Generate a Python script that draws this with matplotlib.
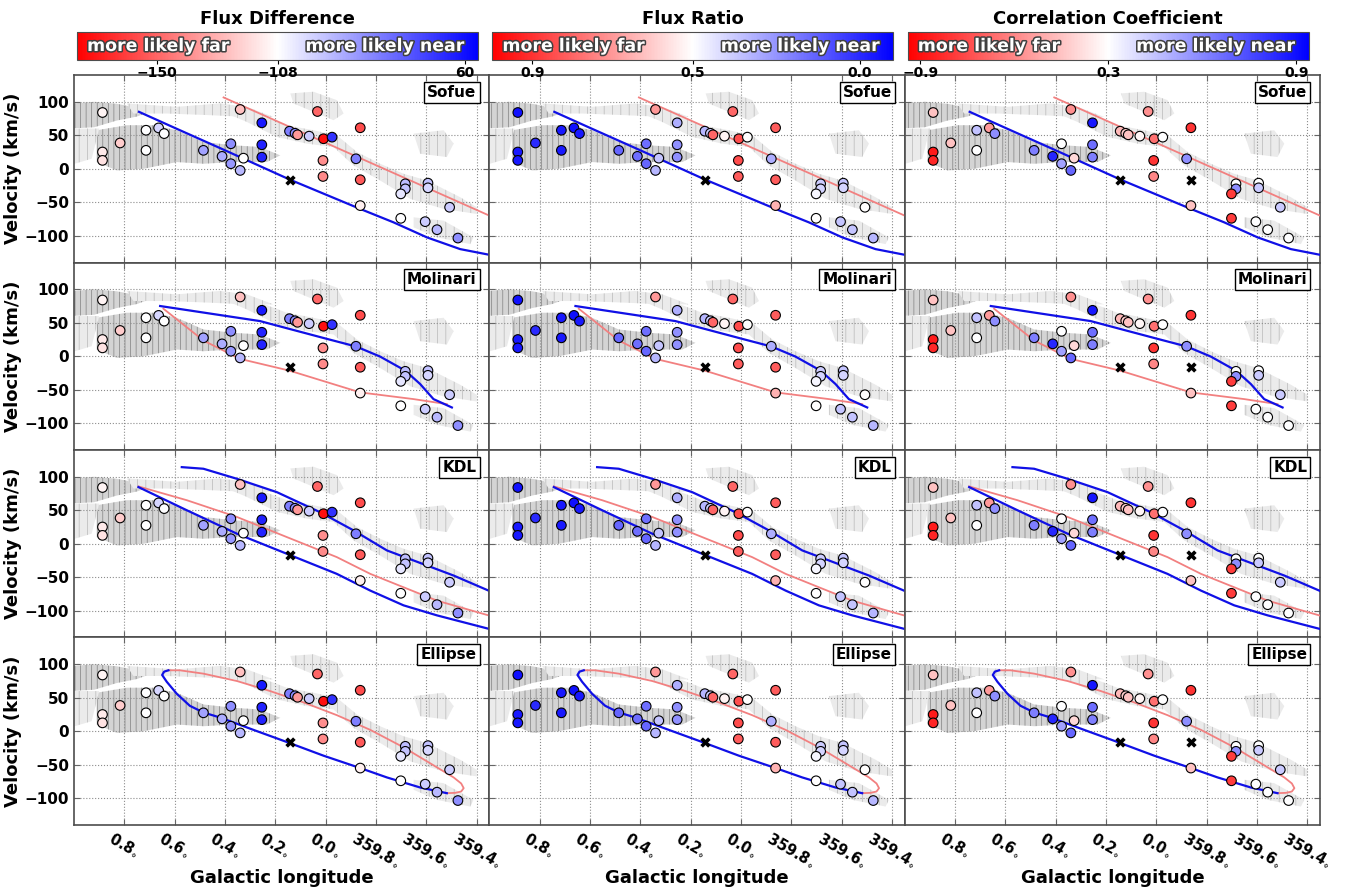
import numpy as np
import matplotlib
matplotlib.use('Agg')
import matplotlib.pyplot as plt
import matplotlib.patheffects as pe
from matplotlib.colors import TwoSlopeNorm
from matplotlib.cm import ScalarMappable

plt.rcParams['font.family'] = 'DejaVu Sans'
plt.rcParams['font.weight'] = 'bold'
plt.rcParams['mathtext.default'] = 'bf'
plt.rcParams['hatch.linewidth'] = 0.5

# source positions: Galactic longitude (deg) and velocity (km/s)
glon = np.array([0.887, 0.887, 0.887, 0.817, 0.714, 0.714, 0.664, 0.642, 0.486, 0.412,
                 0.377, 0.377, 0.340, 0.327, 0.340, 0.254, 0.254, 0.254, 0.144, 0.144,
                 0.122, 0.112, 0.066, 0.033, 0.009, -0.025, 0.011, 0.011, -0.137, -0.137,
                 -0.120, -0.137, -0.316, -0.316, -0.298, -0.298, -0.406, -0.406, -0.395, -0.442,
                 -0.492, -0.525])
vlsr = np.array([84, 25, 12.5, 38.5, 57.5, 27.5, 61, 52.5, 27.5, 18.5,
                 37.3, 7.5, -2.5, 15.8, 88.5, 68.6, 35.8, 17.3, -16.4, 56.1,
                 53, 50.7, 48.7, 85.5, 44.8, 47.2, 12.4, -11.5, 61.2, -16.4,
                 14.9, -55, -22.5, -30, -37.5, -74, -21.5, -28.5, -79, -91,
                 -57.5, -103.5])

nan = np.nan
flux_diff = np.array([-111, -114, -116, -122, -108, -108, -79, -108, -43, -50,
                      -29, -36, -58, -108, -125, 54, 47, 47, nan, -18,
                      -29, -136, -72, -150, -174, 36, -139, -140, -157, -153,
                      -18, -112, -61, -65, -90, -108, -65, -79, -72, -58,
                      -72, -29])
flux_ratio = np.array([-0.06, -0.04, -0.04, 0.00, -0.04, -0.04, -0.06, -0.04, 0.14, 0.16,
                       0.16, 0.14, 0.33, 0.36, 0.70, 0.31, 0.24, 0.24, nan, 0.33,
                       0.38, 0.80, 0.52, 0.80, 0.85, 0.50, 0.85, 0.82, 0.82, 0.82,
                       0.31, 0.65, 0.38, 0.40, 0.48, 0.50, 0.36, 0.40, 0.36, 0.36,
                       0.50, 0.33])
corr_coef = np.array([-0.01, -0.85, -0.78, -0.01, 0.45, 0.30, -0.21, 0.58, 0.62, 0.84,
                      0.30, 0.53, 0.68, 0.10, -0.26, 0.88, 0.66, 0.62, nan, -0.06,
                      0.04, -0.01, 0.25, -0.26, -0.42, 0.30, -0.72, -0.31, -0.72, nan,
                      0.58, -0.01, 0.30, 0.58, -0.67, -0.67, 0.30, 0.43, 0.30, 0.30,
                      0.43, 0.30])

# model curves (near side = blue, far side = red)
sofue_near_l = [0.742, 0.60, 0.40, 0.144, -0.137, -0.269, -0.402, -0.534, -0.650]
sofue_near_v = [85, 61, 27.5, -16, -60, -80, -102.5, -120, -128.5]
sofue_far_l = [0.406, -0.004, -0.650]
sofue_far_v = [106.5, 38, -70]

molinari_near_l = [0.658, 0.261, -0.004, -0.121, -0.216, -0.316, -0.375, -0.428, -0.501]
molinari_near_v = [75, 52.5, 26, 14.5, -0.5, -21.5, -41.5, -64, -76.5]
molinari_far_l = [0.645, 0.486, 0.340, 0.144, -0.137, -0.349, -0.481]
molinari_far_v = [71, 23.5, -4, -21.5, -54, -64, -71.5]

kdl_near1_l = [0.572, 0.486, 0.353, 0.194, 0.022, -0.110, -0.243, -0.402, -0.508, -0.647]
kdl_near1_v = [114.4, 112, 97, 77, 47, 20, -10, -32.5, -47.5, -70]
kdl_near2_l = [0.744, 0.552, 0.353, 0.148, -0.044, -0.177, -0.309, -0.442, -0.647]
kdl_near2_v = [84.6, 50, 15, -16, -45, -70, -92, -107, -127]
kdl_far_l = [0.744, 0.552, 0.353, 0.155, -0.044, -0.177, -0.309, -0.442, -0.647]
kdl_far_v = [85.6, 65, 40, 10, -20, -45, -65, -85, -107]

ellipse_far_l = [0.625, 0.580, 0.486, 0.353, 0.221, 0.088, -0.044, -0.177, -0.309, -0.442,
                 -0.508, -0.538, -0.548, -0.538, -0.515, -0.481]
ellipse_far_v = [91, 91, 86, 75, 60, 43, 24, 2, -24, -54,
                 -69, -78, -85, -90, -92, -92.5]
ellipse_near_l = [-0.481, -0.375, -0.243, -0.137, 0.009, 0.148, 0.287, 0.420, 0.486,
                  0.540, 0.592, 0.632, 0.650, 0.642, 0.625]
ellipse_near_v = [-92.5, -84, -69, -55, -36.5, -17, 2, 20.5, 28,
                  38, 56, 74, 84, 89, 91]

# CO emission outlines (l, v)
cloud_a_l = [1.02, 0.92, 0.83, 0.76, 0.70, 0.75, 0.83, 0.92, 1.02]
cloud_a_v = [97, 100, 97, 92, 85, 78, 72, 62, 60]
cloud_a2_l = [0.791, 0.592, 0.420, 0.314, 0.208, 0.314, 0.459, 0.632, 0.764]
cloud_a2_v = [97.5, 92.5, 97.5, 92.5, 77.5, 77.5, 80, 82.5, 82.5]
cloud_b_l = [0.910, 0.791, 0.685, 0.592, 0.486, 0.367, 0.261, 0.181, 0.234, 0.367,
             0.486, 0.592, 0.724, 0.830, 0.910]
cloud_b_v = [57.5, 65, 65, 57.5, 40, 35, 32.5, 20, 10, 10, 7.5, 10, 0, -2.5, 10]
cloud_c_l = [0.380, 0.261, 0.155, 0.049, -0.044, -0.124, -0.216, -0.309, -0.402, -0.534,
             -0.60, -0.60, -0.468, -0.336, -0.216, -0.110, -0.031, 0.075, 0.194, 0.314, 0.393]
cloud_c_v = [95, 80, 65, 57.5, 50, 25, 7.5, -7.5, -17.5, -42.5,
             -57.5, -67.5, -60, -45, -17.5, 5, 32.5, 37.5, 47.5, 70, 82.5]
cloud_d_l = [0.141, 0.049, -0.044, -0.071, -0.031, 0.049, 0.128]
cloud_d_v = [112.5, 115, 102.5, 82.5, 72.5, 85, 97.5]
cloud_e_l = [-0.349, -0.468, -0.508, -0.481, -0.375]
cloud_e_v = [52.5, 57.5, 37.5, 17.5, 22.5]
cloud_f_l = [-0.349, -0.468, -0.587, -0.574, -0.442, -0.349]
cloud_f_v = [-72.5, -77.5, -102.5, -112.5, -102.5, -87.5]
cloud_g_l = [1.02, 0.90, 0.93, 1.02]
cloud_g_v = [60, 60, 15, 5]

dense_clouds = [(cloud_a_l, cloud_a_v), (cloud_b_l, cloud_b_v)]
sparse_clouds = [(cloud_a2_l, cloud_a2_v), (cloud_c_l, cloud_c_v), (cloud_d_l, cloud_d_v),
                 (cloud_e_l, cloud_e_v), (cloud_f_l, cloud_f_v), (cloud_g_l, cloud_g_v)]

model_names = ['Sofue', 'Molinari', 'KDL', 'Ellipse']
model_lines = [
    [(sofue_far_l, sofue_far_v, 'far'), (sofue_near_l, sofue_near_v, 'near')],
    [(molinari_far_l, molinari_far_v, 'far'), (molinari_near_l, molinari_near_v, 'near')],
    [(kdl_far_l, kdl_far_v, 'far'), (kdl_near1_l, kdl_near1_v, 'near'), (kdl_near2_l, kdl_near2_v, 'near')],
    [(ellipse_far_l, ellipse_far_v, 'far'), (ellipse_near_l, ellipse_near_v, 'near')],
]

col_titles = ['Flux Difference', 'Flux Ratio', 'Correlation Coefficient']
col_values = [flux_diff, flux_ratio, corr_coef]
col_norms = [TwoSlopeNorm(vmin=-178, vcenter=-108, vmax=72),
             TwoSlopeNorm(vmin=-0.1, vcenter=0.5, vmax=1.0),
             TwoSlopeNorm(vmin=-0.98, vcenter=0.3, vmax=0.94)]
col_cmaps = ['bwr_r', 'bwr', 'bwr_r']
col_ticks = [[-150, -108, 60], [0.9, 0.5, 0.0], [-0.9, 0.3, 0.9]]
col_ticklabels = [['\u2212150', '\u2212108', '60'], ['0.9', '0.5', '0.0'], ['\u22120.9', '0.3', '0.9']]

xtick_pos = [0.8, 0.6, 0.4, 0.2, 0.0, -0.2, -0.4, -0.6]
xtick_lab = ['0.8', '0.6', '0.4', '0.2', '0.0', '359.8', '359.6', '359.4']

fig, axes = plt.subplots(4, 3, figsize=(13.51, 8.94), dpi=100)
fig.subplots_adjust(left=0.0548, right=0.9771, top=0.9161, bottom=0.0772, wspace=0, hspace=0)

for j in range(3):
    vals = col_values[j]
    ok = ~np.isnan(vals)
    for i in range(4):
        ax = axes[i, j]
        for cl, cv in dense_clouds:
            ax.fill(cl, cv, facecolor='0.83', edgecolor='0.5', lw=0, hatch='|||', zorder=1)
        for cl, cv in sparse_clouds:
            ax.fill(cl, cv, facecolor='0.92', edgecolor='0.72', lw=0, hatch='||', zorder=1)
        for ll, vv, side in model_lines[i]:
            if side == 'near':
                ax.plot(ll, vv, color='#1010e6', lw=1.6, zorder=3)
            else:
                ax.plot(ll, vv, color='#f28080', lw=1.3, zorder=3)
        ax.scatter(glon[ok], vlsr[ok], c=vals[ok], cmap=col_cmaps[j], norm=col_norms[j],
                   s=48, edgecolors='k', linewidths=0.8, zorder=5)
        ax.scatter(glon[~ok], vlsr[~ok], marker='X', c='k', s=55, linewidths=0, zorder=5)

        ax.set_xlim(1.0, -0.65)
        ax.set_ylim(-140, 140)
        ax.set_xticks(xtick_pos)
        ax.set_yticks([-100, -50, 0, 50, 100])
        ax.grid(True, ls=':', color='0.55', lw=0.8)
        ax.tick_params(direction='in', top=True, right=True, length=4, color='0.4')
        for s in ax.spines.values():
            s.set_color('0.3')
            s.set_linewidth(1.2)
        ax.text(0.969, 0.948, model_names[i], transform=ax.transAxes, ha='right', va='top',
                fontsize=11, fontweight='bold', zorder=6,
                bbox=dict(boxstyle='square,pad=0.2', fc='white', ec='black', lw=1))

        if j == 0:
            ax.set_yticklabels(['\u2212100', '\u221250', '0', '50', '100'], fontsize=11, fontweight='bold')
            ax.set_ylabel('Velocity (km/s)', fontsize=13, fontweight='bold', labelpad=2)
        else:
            ax.set_yticklabels([])
        if i == 3:
            ax.set_xticklabels([t + '$_{\\circ}$' for t in xtick_lab], rotation=-30,
                               ha='center', va='top', fontsize=10.5, fontweight='bold')
            ax.set_xlabel('Galactic longitude', fontsize=13, fontweight='bold', labelpad=-1)
        else:
            ax.set_xticklabels([])

    # colour bar above each column
    x0 = axes[0, j].get_position().x0
    cax = fig.add_axes([x0 + 3 / 1351, 0.9329, 401 / 1351, 0.0313])
    cb = fig.colorbar(ScalarMappable(norm=col_norms[j], cmap=col_cmaps[j]), cax=cax,
                      orientation='horizontal', ticks=col_ticks[j])
    cb.set_ticklabels(col_ticklabels[j])
    if j == 1:
        cax.invert_xaxis()
    cax.tick_params(labelsize=10, length=3, pad=1)
    for t in cax.get_xticklabels():
        t.set_fontweight('bold')
    cb.outline.set_edgecolor('0.3')
    stroke = [pe.withStroke(linewidth=2.2, foreground='0.25')]
    cax.text(0.025, 0.5, 'more likely far', transform=cax.transAxes, color='white',
             fontsize=12.5, fontweight='bold', ha='left', va='center', path_effects=stroke)
    cax.text(0.967, 0.5, 'more likely near', transform=cax.transAxes, color='white',
             fontsize=12.5, fontweight='bold', ha='right', va='center', path_effects=stroke)
    cax.set_title(col_titles[j], fontsize=13, fontweight='bold', pad=6)

fig.savefig('out.png', dpi=100)
